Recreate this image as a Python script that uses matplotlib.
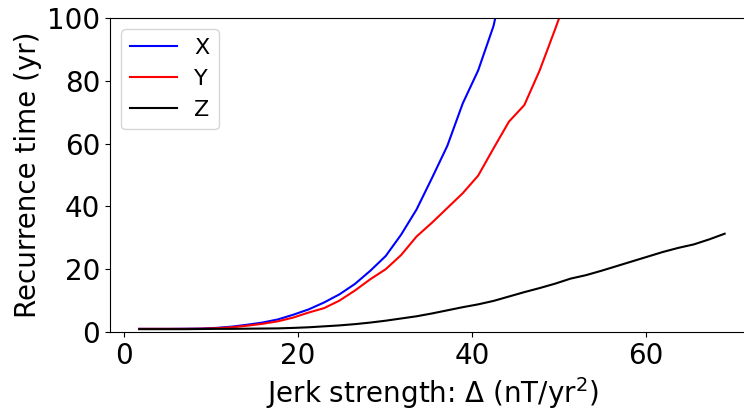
import matplotlib
matplotlib.use("Agg")
import matplotlib.pyplot as plt

# jerk strength grid (nT/yr^2)
delta = [1.77, 3.54, 5.31, 7.08, 8.85, 10.62, 12.39, 14.16, 15.93, 17.70,
         19.47, 21.24, 23.01, 24.78, 26.55, 28.32, 30.09, 31.86, 33.63, 35.40,
         37.17, 38.94, 40.71, 42.48, 44.25, 46.02, 47.79, 49.56, 51.33, 53.10,
         54.87, 56.64, 58.41, 60.18, 61.95, 63.72, 65.49, 67.26, 69.03]

# recurrence times (yr)
rec_x = [1.0, 1.0, 1.0, 1.05, 1.1, 1.3, 1.7, 2.3, 3.0, 4.0,
         5.5, 7.2, 9.4, 12.0, 15.3, 19.5, 24.2, 31.0, 39.0, 49.0,
         59.3, 72.8, 83.3, 97.5, 120.0]
rec_y = [1.0, 1.0, 1.0, 1.0, 1.05, 1.2, 1.5, 2.0, 2.6, 3.4,
         4.6, 6.2, 7.6, 10.0, 13.2, 16.8, 20.0, 24.5, 30.4, 34.8,
         39.5, 44.2, 49.8, 58.5, 67.0, 72.3, 83.4, 96.5, 110.0]
rec_z = [0.9, 0.9, 0.9, 0.9, 0.95, 1.0, 1.0, 1.05, 1.1, 1.15,
         1.3, 1.5, 1.8, 2.1, 2.5, 3.0, 3.6, 4.3, 5.0, 5.9,
         6.9, 7.9, 8.8, 9.9, 11.3, 12.7, 14.0, 15.4, 17.0, 18.1,
         19.5, 21.0, 22.5, 24.0, 25.5, 26.8, 27.9, 29.5, 31.3]

plt.rcParams["font.size"] = 20

fig = plt.figure(figsize=(7.44, 4.12), dpi=100)
ax = fig.add_axes([0.1478, 0.1942, 0.8656, 0.762])

ax.plot(delta[:len(rec_x)], rec_x, color="blue", label="X")
ax.plot(delta[:len(rec_y)], rec_y, color="red", label="Y")
ax.plot(delta, rec_z, color="black", label="Z")

ax.set_ylim(0, 100)
ax.set_xlim(-1.59, 72.4)
ax.set_xticks([0, 20, 40, 60])
ax.set_xlabel(r"Jerk strength: $\Delta$ (nT/yr$^2$)")
ax.set_ylabel("Recurrence time (yr)")
ax.legend(loc="upper left", fontsize=16, handlelength=2.1)

fig.savefig("out.png", dpi=100)
